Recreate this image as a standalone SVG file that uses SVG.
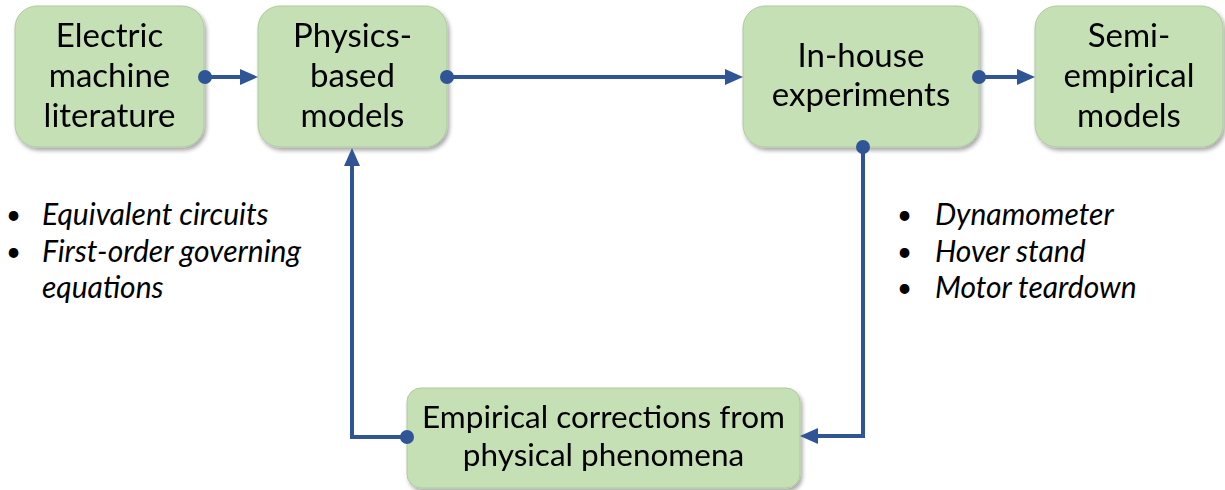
<svg xmlns="http://www.w3.org/2000/svg" width="1225" height="490" viewBox="0 0 1225 490">
<style>
.box{fill:#C5E0B4;stroke:#B0C9A0;stroke-width:1}
.lbl{font-family:Lato,"Open Sans",sans-serif;font-size:33px;fill:#000;text-anchor:middle}
.lbl2{font-family:Lato,"Open Sans",sans-serif;font-size:31.5px;fill:#000;text-anchor:middle}
.bul{font-family:Lato,"Open Sans",sans-serif;font-size:30px;fill:#000;font-style:italic}
.dot{font-family:Lato,"Open Sans",sans-serif;font-size:26px;fill:#000}
.con{fill:none;stroke:#2F5597;stroke-width:4}
.end{fill:#2F5597}
</style>
<defs>
<filter id="sh" x="-10%" y="-10%" width="130%" height="130%">
<feGaussianBlur in="SourceAlpha" stdDeviation="2"/>
<feOffset dx="2" dy="3"/>
<feComponentTransfer><feFuncA type="linear" slope="0.35"/></feComponentTransfer>
<feMerge><feMergeNode/><feMergeNode in="SourceGraphic"/></feMerge>
</filter>
</defs>
<g id="n1" filter="url(#sh)">
<rect class="box" x="15" y="6" width="189" height="141" rx="22"/>
<text class="lbl" x="109.5" y="47">Electric</text>
<text class="lbl" x="109.5" y="87">machine</text>
<text class="lbl" x="109.5" y="127">literature</text>
</g>
<g id="n2" filter="url(#sh)">
<rect class="box" x="258" y="6" width="189" height="141" rx="22"/>
<text class="lbl" x="352.5" y="47">Physics-</text>
<text class="lbl" x="352.5" y="87">based</text>
<text class="lbl" x="352.5" y="127">models</text>
</g>
<g id="n3" filter="url(#sh)">
<rect class="box" x="743" y="6" width="236" height="141" rx="22"/>
<text class="lbl" x="861" y="67">In-house</text>
<text class="lbl" x="861" y="106">experiments</text>
</g>
<g id="n4" filter="url(#sh)">
<rect class="box" x="1035" y="6" width="188" height="141" rx="22"/>
<text class="lbl" x="1129" y="47">Semi-</text>
<text class="lbl" x="1129" y="87">empirical</text>
<text class="lbl" x="1129" y="127">models</text>
</g>
<g id="n5" filter="url(#sh)">
<rect class="box" x="407" y="388" width="393" height="100" rx="14"/>
<text class="lbl2" x="603.5" y="428">Empirical corrections from</text>
<text class="lbl2" x="603.5" y="466">physical phenomena</text>
</g>
<g id="connectors">
<path class="con" d="M205,77 H241"/>
<path class="end" d="M240,69 L258,77 L240,85 Z"/>
<circle class="end" cx="205" cy="77" r="7"/>
<path class="con" d="M447,77 H726"/>
<path class="end" d="M725,69 L743,77 L725,85 Z"/>
<circle class="end" cx="447" cy="77" r="7"/>
<path class="con" d="M979,77 H1018"/>
<path class="end" d="M1017,69 L1035,77 L1017,85 Z"/>
<circle class="end" cx="979" cy="77" r="7"/>
<path class="con" d="M863,147 V436 H817"/>
<path class="end" d="M818,428 L800,436 L818,444 Z"/>
<circle class="end" cx="863" cy="147" r="7"/>
<path class="con" d="M407,437 H352 V165"/>
<path class="end" d="M344,166 L352,148 L360,166 Z"/>
<circle class="end" cx="407" cy="437" r="7"/>
</g>
<g id="notes-left">
<text class="dot" x="6" y="224">•</text>
<text class="bul" x="42" y="225">Equivalent circuits</text>
<text class="dot" x="6" y="261">•</text>
<text class="bul" x="42" y="262">First-order governing</text>
<text class="bul" x="42" y="298">equations</text>
</g>
<g id="notes-right">
<text class="dot" x="897" y="224">•</text>
<text class="bul" x="935" y="225">Dynamometer</text>
<text class="dot" x="897" y="261">•</text>
<text class="bul" x="935" y="262">Hover stand</text>
<text class="dot" x="897" y="297">•</text>
<text class="bul" x="935" y="298">Motor teardown</text>
</g>
</svg>
